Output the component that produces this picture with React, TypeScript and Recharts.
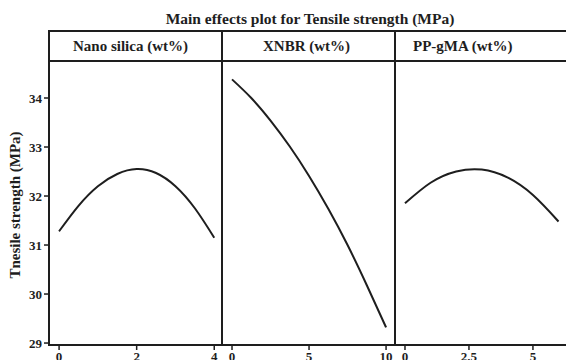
import { LineChart, Line, XAxis, YAxis } from "recharts";

const nanoSilicaLevels = [0, 0.5, 1, 1.5, 2, 2.5, 3, 3.5, 4];
const nanoSilicaMeans = [31.28, 31.8, 32.2, 32.45, 32.55, 32.47, 32.2, 31.75, 31.15];

const xnbrLevels = [0, 1.25, 2.5, 3.75, 5, 6.25, 7.5, 8.75, 10];
const xnbrMeans = [34.38, 34.0, 33.54, 33.01, 32.41, 31.74, 31.0, 30.18, 29.32];

const ppgmaLevels = [0, 1, 2, 3, 4, 5, 6];
const ppgmaMeans = [31.85, 32.27, 32.5, 32.54, 32.38, 32.02, 31.48];

const yTicks = [29, 30, 31, 32, 33, 34];
const nanoSilicaTicks = [0, 2, 4];
const xnbrTicks = [0, 5, 10];
const ppgmaTicks = [0, 2.5, 5];

const yDomain = [28.96, 34.755];
const ink = "#1e1e1e";

const toPoints = (xs: number[], ys: number[]) => xs.map((x, i) => ({ x, y: ys[i] }));

interface PanelProps {
  data: { x: number; y: number }[];
  domain: number[];
  ticks: number[];
  showY?: boolean;
  width: number;
}

const Panel = ({ data, domain, ticks, showY, width }: PanelProps) => (
  <LineChart width={width} height={314} data={data} margin={{ top: 0, right: 0, bottom: 0, left: 0 }}>
    <XAxis
      type="number"
      dataKey="x"
      domain={domain}
      ticks={ticks}
      interval={0}
      allowDataOverflow
      axisLine={false}
      tickLine={{ stroke: ink, strokeWidth: 1.5 }}
      tickSize={5}
      height={30}
      tick={{ fill: ink, fontSize: 13, fontWeight: "bold" }}
    />
    <YAxis
      type="number"
      domain={yDomain}
      ticks={yTicks}
      interval={0}
      allowDataOverflow
      hide={!showY}
      width={49}
      axisLine={false}
      tickLine={{ stroke: ink, strokeWidth: 1.5 }}
      tickSize={5}
      tick={{ fill: ink, fontSize: 13, fontWeight: "bold" }}
    />
    <Line type="natural" dataKey="y" stroke={ink} strokeWidth={2} dot={false} isAnimationActive={false} />
  </LineChart>
);

const line = (left: number, top: number, width: number, height: number) => (
  <div style={{ position: "absolute", left, top, width, height, background: ink }} />
);

const header = (text: string, left: number) => (
  <div style={{ position: "absolute", left, top: 37, fontSize: 15, fontWeight: "bold", lineHeight: "18px", whiteSpace: "nowrap" }}>
    {text}
  </div>
);

export default function App() {
  return (
    <div
      style={{
        position: "absolute",
        left: 0,
        top: 0,
        width: 566,
        height: 360,
        overflow: "hidden",
        background: "#fff",
        fontFamily: "'Liberation Serif', 'Times New Roman', serif",
        color: ink,
      }}
    >
      <div style={{ position: "absolute", left: 110, top: 10, width: 400, textAlign: "center", fontSize: 15.5, fontWeight: "bold", lineHeight: "18px" }}>
        Main effects plot for Tensile strength (MPa)
      </div>
      <div
        style={{
          position: "absolute",
          left: -85,
          top: 196,
          width: 200,
          textAlign: "center",
          fontSize: 15,
          fontWeight: "bold",
          lineHeight: "18px",
          transform: "rotate(-90deg)",
        }}
      >
        Tnesile strength (MPa)
      </div>
      <div style={{ position: "absolute", left: 0, top: 61 }}>
        <Panel data={toPoints(nanoSilicaLevels, nanoSilicaMeans)} domain={[-0.26, 4.2]} ticks={nanoSilicaTicks} showY width={222} />
      </div>
      <div style={{ position: "absolute", left: 222, top: 61 }}>
        <Panel data={toPoints(xnbrLevels, xnbrMeans)} domain={[-0.65, 10.58]} ticks={xnbrTicks} width={173} />
      </div>
      <div style={{ position: "absolute", left: 395, top: 61 }}>
        <Panel data={toPoints(ppgmaLevels, ppgmaMeans)} domain={[-0.39, 6.37]} ticks={ppgmaTicks} width={173} />
      </div>
      {line(48, 30, 520, 2)}
      {line(48, 60, 520, 2)}
      {line(48, 344, 520, 2)}
      {line(48, 30, 2, 316)}
      {line(221, 30, 2, 316)}
      {line(394, 30, 2, 316)}
      {line(567, 30, 2, 316)}
      {header("Nano silica (wt%)", 73)}
      {header("XNBR (wt%)", 263)}
      {header("PP-gMA (wt%)", 413)}
    </div>
  );
}
